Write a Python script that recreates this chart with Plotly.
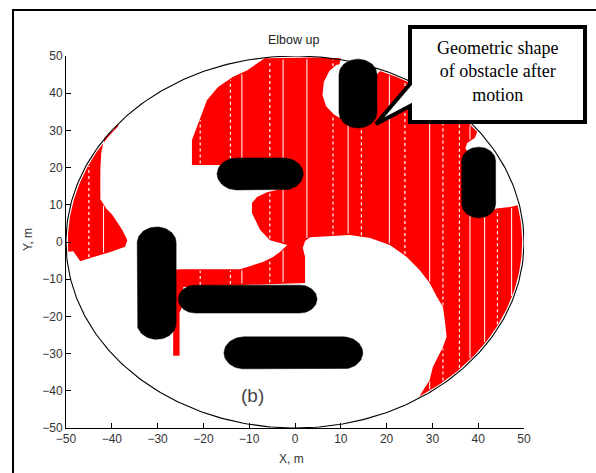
import numpy as np
import plotly.graph_objects as go

# ---------------------------------------------------------------- page geometry
W, H = 596, 473
ML, MR, MT, MB = 66, 72, 56, 45
PW, PH = W - ML - MR, H - MT - MB


def paper(px, py):
    """Page pixel -> paper coordinates."""
    return (px - ML) / PW, 1 - (py - MT) / PH


# ---------------------------------------------------------------- data
R_WORK = 50.0          # radius of the workspace boundary circle
R_FILL = 49.6          # reachable region hugs the boundary just inside it

x_ticks = [-50, -40, -30, -20, -10, 0, 10, 20, 30, 40, 50]
y_ticks = [-50, -40, -30, -20, -10, 0, 10, 20, 30, 40, 50]

# obstacles: capsules given by the axis segment and the radius
obstacle_x1 = [-12.7, -30.2, -21.75, -11.2, 13.75, 40.1]
obstacle_y1 = [18.3, -0.2, -15.35, -29.8, 45.0, 21.8]
obstacle_x2 = [-2.5, -30.2, 1.05, 10.5, 13.75, 40.1]
obstacle_y2 = [18.3, -21.9, -15.35, -29.8, 34.8, 10.2]
obstacle_r = [4.3, 4.25, 3.75, 4.3, 4.15, 3.7]

# reachable region on the left (inner edge, then boundary arc in degrees)
region_a_x = [-38.7, -39.6, -41.6, -42.3, -42.5, -42.5, -41.2, -39.9, -37.7,
              -36.6, -37.1, -40.3, -44.7, -46.9, -48.4]
region_a_y = [31.7, 30.2, 28.0, 24.0, 19.5, 11.5, 9.0, 7.3, 3.2,
              0.5, -1.3, -2.7, -4.3, -5.2, -2.5]
region_a_arc = (183.0, 141.0)

# main reachable region: edges between two stretches of the boundary arc
region_b_edge1_x = [-6.6, -10.4, -13.5, -16.8, -19.2, -21.4, -22.5, -22.5, -16.5,
                    -12.0, -3.0, -3.3, -6.1, -8.3, -9.4, -9.4, -7.6, -5.45, -3.3,
                    -1.7, -3.3, -4.8, -7.0, -10.5, -12.0, -25.1, -26.6,
                    -26.6, -25.2, -25.2, -24.5, -24.4,
                    2.2, 2.2, 1.7, 2.2, 3.3, 12.0, 16.4, 20.7, 24.4, 27.2, 29.4,
                    31.0, 32.3, 32.7, 33.1, 32.3, 30.1, 29.4, 27.0]
region_b_edge1_y = [49.4, 46.2, 44.4, 41.7, 38.2, 30.9, 27.4, 20.7, 20.7,
                    17.0, 16.0, 14.2, 13.4, 12.1, 10.5, 7.8, 3.2, 0.5, -0.3,
                    -0.8, -2.7, -4.0, -5.4, -6.7, -7.3, -7.3, -7.5,
                    -30.6, -30.6, -19.0, -17.0, -12.1,
                    -11.0, -4.0, -1.6, 0.3, 1.3, 1.9, 1.1, -0.8, -4.0, -7.5, -11.0,
                    -14.8, -17.5, -21.0, -25.5, -28.2, -33.6, -37.1, -41.8]
region_b_arc1 = (-57.0, 11.5)
region_b_edge2_x = [47.0, 44.0, 41.0, 38.5, 37.8, 37.8, 37.2, 37.6, 39.3]
region_b_edge2_y = [9.4, 9.0, 7.0, 8.0, 14.0, 24.0, 25.2, 26.6, 28.0]
region_b_arc2 = (36.7, 68.0)
region_b_edge3_x = [15.5, 13.0, 10.3, 8.5, 6.8, 6.0, 6.3, 7.5, 9.0, 9.7, 10.0, 4.8]
region_b_edge3_y = [42.0, 36.0, 33.0, 34.3, 36.5, 39.5, 43.0, 46.0, 47.6, 47.8, 49.4, 49.6]

# columns of the sampling grid that came out empty (white through the red)
gap_columns = [-41.8, -11.6, -2.6, 2.6, 11.6, 20.6, 29.4, 38.2, 41.4, 47.3]
sparse_columns = [-45.0, -20.7, -14.1, -5.5, 8.3, 14.5, 24.0, 32.3, 35.9, 44.2]

title_text = "Elbow up"
x_title = "X, m"
y_title = "Y, m"
panel_label = "(b)"
panel_label_pos = (-9.3, -41.2)
callout_text = "Geometric shape<br>of obstacle after<br>motion"


# ---------------------------------------------------------------- geometry helpers
def arc(a0, a1, r=R_FILL, n=80):
    t = np.radians(np.linspace(a0, a1, n))
    return list(zip(r * np.cos(t), r * np.sin(t)))


def capsule(x1, y1, x2, y2, r, n=40):
    th = np.arctan2(y2 - y1, x2 - x1) if (x1, y1) != (x2, y2) else 0.0
    t1 = np.linspace(th + np.pi / 2, th + 3 * np.pi / 2, n)
    t2 = np.linspace(th - np.pi / 2, th + np.pi / 2, n)
    xs = np.concatenate([x1 + r * np.cos(t1), x2 + r * np.cos(t2), [x1 + r * np.cos(t1[0])]])
    ys = np.concatenate([y1 + r * np.sin(t1), y2 + r * np.sin(t2), [y1 + r * np.sin(t1[0])]])
    return xs, ys


def column_segments(poly, x):
    ys = []
    n = len(poly)
    for i in range(n):
        xa, ya = poly[i]
        xb, yb = poly[(i + 1) % n]
        if (xa <= x < xb) or (xb <= x < xa):
            ys.append(ya + (x - xa) / (xb - xa) * (yb - ya))
    ys.sort()
    return list(zip(ys[0::2], ys[1::2]))


region_a = list(zip(region_a_x, region_a_y)) + arc(*region_a_arc)
region_b = (list(zip(region_b_edge1_x, region_b_edge1_y)) + arc(*region_b_arc1)
            + list(zip(region_b_edge2_x, region_b_edge2_y)) + arc(*region_b_arc2)
            + list(zip(region_b_edge3_x, region_b_edge3_y)))
regions = [region_a, region_b]

# ---------------------------------------------------------------- figure
fig = go.Figure()

for poly in regions:
    px_, py_ = zip(*(poly + [poly[0]]))
    fig.add_trace(go.Scatter(x=px_, y=py_, mode="lines", fill="toself",
                             fillcolor="#ff0000", line=dict(width=0, color="#ff0000"),
                             hoverinfo="skip"))


def column_trace(columns, dash, width):
    lx, ly = [], []
    for poly in regions:
        for cx in columns:
            for y0, y1 in column_segments(poly, cx):
                lx += [cx, cx, None]
                ly += [y0 + 0.4, y1 - 0.4, None]
    return go.Scatter(x=lx, y=ly, mode="lines",
                      line=dict(color="white", width=width, dash=dash),
                      hoverinfo="skip")


fig.add_trace(column_trace(gap_columns, "solid", 1.0))
fig.add_trace(column_trace(sparse_columns, "dot", 1.2))

# workspace boundary
t = np.linspace(0, 2 * np.pi, 361)
fig.add_trace(go.Scatter(x=R_WORK * np.cos(t), y=R_WORK * np.sin(t), mode="lines",
                         line=dict(color="black", width=1.1), hoverinfo="skip"))

# obstacles
for x1, y1, x2, y2, r in zip(obstacle_x1, obstacle_y1, obstacle_x2, obstacle_y2, obstacle_r):
    cx, cy = capsule(x1, y1, x2, y2, r)
    fig.add_trace(go.Scatter(x=cx, y=cy, mode="lines", fill="toself", fillcolor="black",
                             line=dict(width=0.5, color="black"), hoverinfo="skip"))

axis_font = dict(family="Liberation Sans, Arial, sans-serif", size=12, color="#333333")
common_axis = dict(range=[-50, 50], showgrid=False, zeroline=False, showline=True,
                   linecolor="black", linewidth=1, ticks="inside", ticklen=5,
                   tickcolor="black", tickwidth=1, tickfont=axis_font, mirror=False)
fig.update_xaxes(tickvals=x_ticks, **common_axis)
fig.update_yaxes(tickvals=y_ticks, **common_axis)

# outer frame of the panel (left and top edges are on the page)
fx0, fy0 = paper(13, 10)
fx1, fy1 = paper(W + 20, H + 20)
shapes = [dict(type="rect", xref="paper", yref="paper", x0=fx0, y0=fy1, x1=fx1, y1=fy0,
               line=dict(color="black", width=2), layer="above")]

# callout box with its pointer
pts = [(410, 27), (585, 27), (585, 122), (410, 122), (410, 106), (376, 124), (410, 84)]
path = "M " + " L ".join("{:.5f},{:.5f}".format(*paper(a, b)) for a, b in pts) + " Z"
shapes.append(dict(type="path", path=path, xref="paper", yref="paper",
                   fillcolor="white", line=dict(color="black", width=4), layer="above"))

tx, ty = paper(497, 72)
ttx, tty = paper(293, 40)
xtx, xty = paper(291, 459)
ytx, yty = paper(28, 240)
annotations = [
    dict(text=callout_text, x=tx, y=ty, xref="paper", yref="paper", showarrow=False,
         xanchor="center", yanchor="middle", align="center",
         font=dict(family="Liberation Serif, Times New Roman, serif", size=18, color="black")),
    dict(text=title_text, x=ttx, y=tty, xref="paper", yref="paper", showarrow=False,
         xanchor="center", yanchor="middle",
         font=dict(family="Liberation Sans, Arial, sans-serif", size=12.5, color="#222222")),
    dict(text=x_title, x=xtx, y=xty, xref="paper", yref="paper", showarrow=False,
         xanchor="center", yanchor="middle", font=axis_font),
    dict(text=y_title, x=ytx, y=yty, xref="paper", yref="paper", showarrow=False,
         xanchor="center", yanchor="middle", textangle=-90, font=axis_font),
    dict(text=panel_label, x=panel_label_pos[0], y=panel_label_pos[1], xref="x", yref="y",
         showarrow=False, xanchor="center", yanchor="middle",
         font=dict(family="Liberation Sans, Arial, sans-serif", size=19, color="#444444")),
]

fig.update_layout(width=W, height=H, margin=dict(l=ML, r=MR, t=MT, b=MB),
                  paper_bgcolor="white", plot_bgcolor="white", showlegend=False,
                  shapes=shapes, annotations=annotations)

fig.write_html("out.html")
